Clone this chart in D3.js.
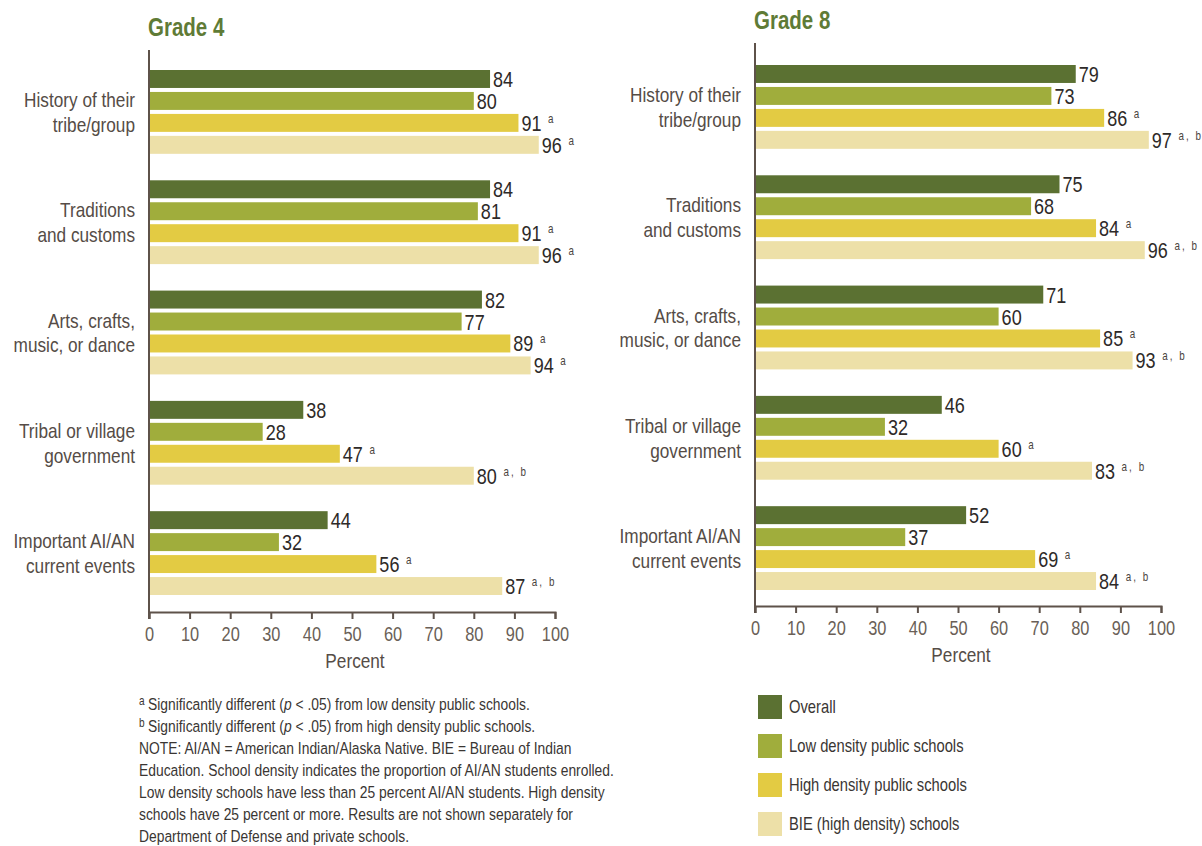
<!DOCTYPE html>
<html>
<head>
<meta charset="utf-8">
<script src="https://cdn.jsdelivr.net/npm/d3@7"></script>
<style>
  html, body { margin: 0; padding: 0; background: #ffffff; }
  svg { display: block; }
  text { font-family: "Liberation Sans", Arial, sans-serif; }
</style>
</head>
<body>
<svg id="chart" width="1202" height="846"></svg>
<script>
// ---------- data ----------
const categories = [
  "History of their|tribe/group",
  "Traditions|and customs",
  "Arts, crafts,|music, or dance",
  "Tribal or village|government",
  "Important AI/AN|current events"
];
const seriesNames = [
  "Overall",
  "Low density public schools",
  "High density public schools",
  "BIE (high density) schools"
];
const grade4Overall = [84, 84, 82, 38, 44];
const grade4Low     = [80, 81, 77, 28, 32];
const grade4High    = [91, 91, 89, 47, 56];
const grade4BIE     = [96, 96, 94, 80, 87];
const grade4HighNotes = ["a", "a", "a", "a", "a"];
const grade4BIENotes  = ["a", "a", "a", "a, b", "a, b"];

const grade8Overall = [79, 75, 71, 46, 52];
const grade8Low     = [73, 68, 60, 32, 37];
const grade8High    = [86, 84, 85, 60, 69];
const grade8BIE     = [97, 96, 93, 83, 84];
const grade8HighNotes = ["a", "a", "a", "a", "a"];
const grade8BIENotes  = ["a, b", "a, b", "a, b", "a, b", "a, b"];

const xTicks = [0, 10, 20, 30, 40, 50, 60, 70, 80, 90, 100];
const footnotes = [
  ["a", "Significantly different (", "p", " < .05) from low density public schools."],
  ["b", "Significantly different (", "p", " < .05) from high density public schools."],
  ["", "NOTE: AI/AN = American Indian/Alaska Native. BIE = Bureau of Indian"],
  ["", "Education. School density indicates the proportion of AI/AN students enrolled."],
  ["", "Low density schools have less than 25 percent AI/AN students. High density"],
  ["", "schools have 25 percent or more. Results are not shown separately for"],
  ["", "Department of Defense and private schools."]
];

// ---------- style ----------
const colors = ["#5b7132", "#a0ad3c", "#e3cb43", "#ede0a8"];
const textColor = "#554c46";
const axisColor = "#5e524a";
const titleColor = "#5f7b36";
const SX = 0.82; // horizontal condensing (narrow face)

const svg = d3.select("#chart");

function ntext(parent, x, y, sx) {
  const g = parent.append("g").attr("transform", `translate(${x},${y}) scale(${sx || SX},1)`);
  return g.append("text").attr("x", 0).attr("y", 0);
}

function buildPanel(cfg) {
  const g = svg.append("g");
  const values = cfg.values;
  const notes = [[], [], cfg.highNotes, cfg.bieNotes];

  const x = d3.scaleLinear().domain([0, 100]).range([cfg.x0, cfg.x1]);
  const y0 = d3.scaleBand().domain(categories).range(cfg.bandRange).paddingInner(0.24).paddingOuter(0);
  const y1 = d3.scaleBand().domain(d3.range(seriesNames.length)).range([0, y0.bandwidth()]).paddingInner(0.182).paddingOuter(0);

  // title
  ntext(g, cfg.titleX, cfg.titleY)
    .attr("font-size", 25).attr("font-weight", "bold")
    .attr("fill", titleColor)
    .text(cfg.title);

  categories.forEach((cat, ci) => {
    const gg = g.append("g").attr("transform", `translate(0,${y0(cat)})`);
    seriesNames.forEach((s, si) => {
      const v = values[si][ci];
      gg.append("rect")
        .attr("x", x(0)).attr("y", y1(si))
        .attr("width", x(v) - x(0)).attr("height", y1.bandwidth())
        .attr("fill", colors[si]);
      const t = ntext(gg, x(v) + 3, y1(si) + y1.bandwidth() - 1)
        .attr("font-size", 22)
        .attr("fill", "#2e2a28");
      t.append("tspan").text(v);
      const n = notes[si][ci];
      if (n) {
        t.append("tspan")
          .attr("dx", 8).attr("dy", -8)
          .attr("font-size", 12)
          .attr("letter-spacing", 2.5)
          .attr("fill", "#4a4440")
          .text(n);
      }
    });
    // category label
    const lines = cat.split("|");
    const cy = y0(cat) + y0.bandwidth() / 2;
    const lt = ntext(g, cfg.x0 - 14, cy - 5)
      .attr("text-anchor", "end")
      .attr("font-size", 21)
      .attr("fill", textColor);
    lines.forEach((ln, li) => {
      lt.append("tspan")
        .attr("x", 0)
        .attr("y", li * 25)
        .text(ln);
    });
  });

  // vertical axis line
  g.append("line")
    .attr("x1", x(0)).attr("x2", x(0))
    .attr("y1", cfg.yTop).attr("y2", cfg.yBottom + 7)
    .attr("stroke", axisColor).attr("stroke-width", 2);

  // x axis
  const ax = g.append("g")
    .attr("transform", `translate(0,${cfg.yBottom})`)
    .call(d3.axisBottom(x).tickValues(xTicks).tickSize(7).tickSizeOuter(7).tickPadding(7));
  ax.select(".domain").attr("stroke", axisColor).attr("stroke-width", 2);
  ax.selectAll(".tick line").attr("stroke", axisColor).attr("stroke-width", 2);
  ax.selectAll(".tick text")
    .attr("font-size", 21)
    .attr("font-family", "Liberation Sans, Arial, sans-serif")
    .attr("fill", "#6a5f57")
    .attr("transform", `scale(0.78,1)`);

  ntext(g, (cfg.x0 + cfg.x1) / 2 + 3, cfg.yBottom + 56)
    .attr("text-anchor", "middle")
    .attr("font-size", 21)
    .attr("fill", textColor)
    .text("Percent");
}

buildPanel({
  title: "Grade 4", titleX: 148, titleY: 36,
  x0: 149, x1: 555, yTop: 50, yBottom: 612, bandRange: [70, 595],
  values: [grade4Overall, grade4Low, grade4High, grade4BIE],
  highNotes: grade4HighNotes, bieNotes: grade4BIENotes
});

buildPanel({
  title: "Grade 8", titleX: 754, titleY: 29,
  x0: 755, x1: 1161, yTop: 43, yBottom: 606, bandRange: [65, 590],
  values: [grade8Overall, grade8Low, grade8High, grade8BIE],
  highNotes: grade8HighNotes, bieNotes: grade8BIENotes
});

// ---------- footnotes ----------
const fn = svg.append("g");
footnotes.forEach((parts, i) => {
  const t = ntext(fn, 139, 710 + i * 22, 0.84)
    .attr("font-size", 16.5)
    .attr("fill", "#3a3633");
  if (parts[0]) {
    t.append("tspan").attr("font-size", 12).attr("dy", -5).text(parts[0]);
    t.append("tspan").attr("dy", 5).attr("dx", 4).text(parts[1]);
    t.append("tspan").attr("font-style", "italic").text(parts[2]);
    t.append("tspan").text(parts[3]);
  } else {
    t.append("tspan").text(parts[1]);
  }
});

// ---------- legend ----------
const lg = svg.append("g");
seriesNames.forEach((s, i) => {
  const yy = 695 + i * 39;
  lg.append("rect")
    .attr("x", 758).attr("y", yy)
    .attr("width", 24).attr("height", 24)
    .attr("fill", colors[i]);
  ntext(lg, 789, yy + 18)
    .attr("font-size", 18)
    .attr("fill", "#3a3633")
    .text(s);
});
</script>
</body>
</html>
